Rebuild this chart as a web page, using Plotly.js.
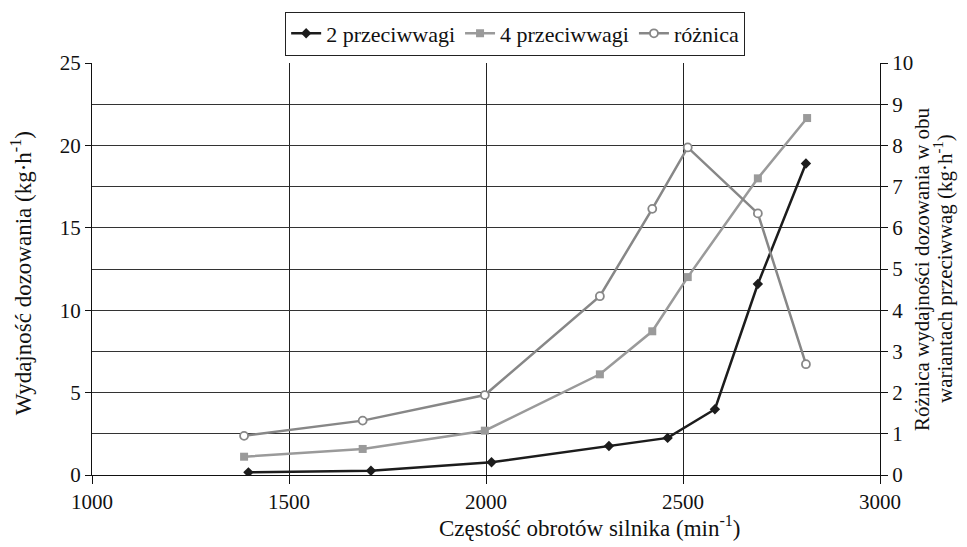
<!DOCTYPE html>
<html>
<head>
<meta charset="utf-8">
<script src="https://cdn.plot.ly/plotly-3.0.1.min.js"></script>
</head>
<body style="margin:0;padding:0;background:#fff">
<div id="chart" style="width:967px;height:547px"></div>
<script>
// data
const rpm2 = [1397, 1708, 2014, 2312, 2461, 2581, 2690, 2812];
const val2 = [0.16, 0.26, 0.77, 1.76, 2.25, 3.99, 11.59, 18.9];
const rpm4 = [1386, 1687, 1997, 2289, 2422, 2512, 2690, 2815];
const val4 = [1.11, 1.58, 2.69, 6.11, 8.72, 12.01, 18.0, 21.66];
const rpmDiff = [1386, 1687, 1997, 2289, 2422, 2512, 2690, 2812];
const valDiff = [0.95, 1.32, 1.94, 4.34, 6.46, 7.95, 6.35, 2.69];
const names = ['2 przeciwwagi', '4 przeciwwagi', 'różnica'];
const xTitle = 'Częstość obrotów silnika (min<sup>-1</sup>)';
const yTitle = 'Wydajność dozowania (kg·h<sup>-1</sup>)';
const y2TitleLines = ['Różnica wydajności dozowania w obu', 'wariantach przeciwwag (kg·h<sup>-1</sup>)'];

const FONTFAM = 'Liberation Serif, serif';

const traces = [
  {x: rpm2, y: val2, name: names[0], mode: 'lines+markers', yaxis: 'y',
   line: {color: '#1c1c1c', width: 2.5},
   marker: {symbol: 'diamond', size: 8, color: '#1c1c1c'}},
  {x: rpm4, y: val4, name: names[1], mode: 'lines+markers', yaxis: 'y',
   line: {color: '#9a9a9a', width: 2.5},
   marker: {symbol: 'square', size: 8, color: '#9a9a9a'}},
  {x: rpmDiff, y: valDiff, name: names[2], mode: 'lines+markers', yaxis: 'y2',
   line: {color: '#878787', width: 2.5},
   marker: {symbol: 'circle', size: 8, color: '#ffffff', line: {color: '#878787', width: 1.8}}}
];

const titleFont = {family: FONTFAM, size: 23, color: '#111'};
const annotations = [
  {text: xTitle, xref: 'paper', yref: 'paper', x: 0.632, y: -0.126, xanchor: 'center', yanchor: 'middle',
   showarrow: false, font: titleFont},
  {text: yTitle, xref: 'paper', yref: 'paper', x: -0.09, y: 0.49, xanchor: 'center', yanchor: 'middle',
   textangle: -90, showarrow: false, font: titleFont},
  {text: y2TitleLines[0], xref: 'paper', yref: 'paper', x: 1.0533, y: 0.5, xanchor: 'center', yanchor: 'middle',
   textangle: -90, showarrow: false, font: {family: FONTFAM, size: 21, color: '#111'}},
  {text: y2TitleLines[1], xref: 'paper', yref: 'paper', x: 1.08, y: 0.5, xanchor: 'center', yanchor: 'middle',
   textangle: -90, showarrow: false, font: {family: FONTFAM, size: 21, color: '#111'}}
];

const layout = {
  width: 967, height: 547,
  margin: {l: 92, r: 87, t: 63, b: 72},
  paper_bgcolor: '#fff', plot_bgcolor: '#fff',
  font: {family: FONTFAM, size: 20, color: '#111'},
  showlegend: true,
  legend: {orientation: 'h', x: 0.537, xanchor: 'center', y: 1.125, yanchor: 'top',
           bordercolor: '#222', borderwidth: 1, bgcolor: '#fff',
           font: {family: FONTFAM, size: 22, color: '#111'}},
  annotations: annotations,
  xaxis: {range: [1000, 3000], dtick: 500, tick0: 1000, showgrid: true, gridcolor: '#222', gridwidth: 1,
          showline: true, linecolor: '#111', linewidth: 1.2, ticks: 'outside', ticklen: 8, tickcolor: '#111',
          zeroline: false, tickfont: {family: FONTFAM, size: 21}},
  yaxis: {range: [0, 25], dtick: 5, showgrid: true, gridcolor: '#333', gridwidth: 1,
          minor: {dtick: 2.5, showgrid: true, gridcolor: '#333', gridwidth: 1, ticks: ''},
          showline: true, linecolor: '#111', linewidth: 1.2, ticks: 'outside', ticklen: 6, tickcolor: '#111',
          zeroline: false, tickfont: {family: FONTFAM, size: 21}},
  yaxis2: {range: [0, 10], dtick: 1, overlaying: 'y', side: 'right', showgrid: false,
           showline: true, linecolor: '#111', linewidth: 1.2, ticks: 'outside', ticklen: 7, tickcolor: '#111',
           zeroline: false, tickfont: {family: FONTFAM, size: 21}}
};

Plotly.newPlot('chart', traces, layout, {displayModeBar: false});
</script>
</body>
</html>
